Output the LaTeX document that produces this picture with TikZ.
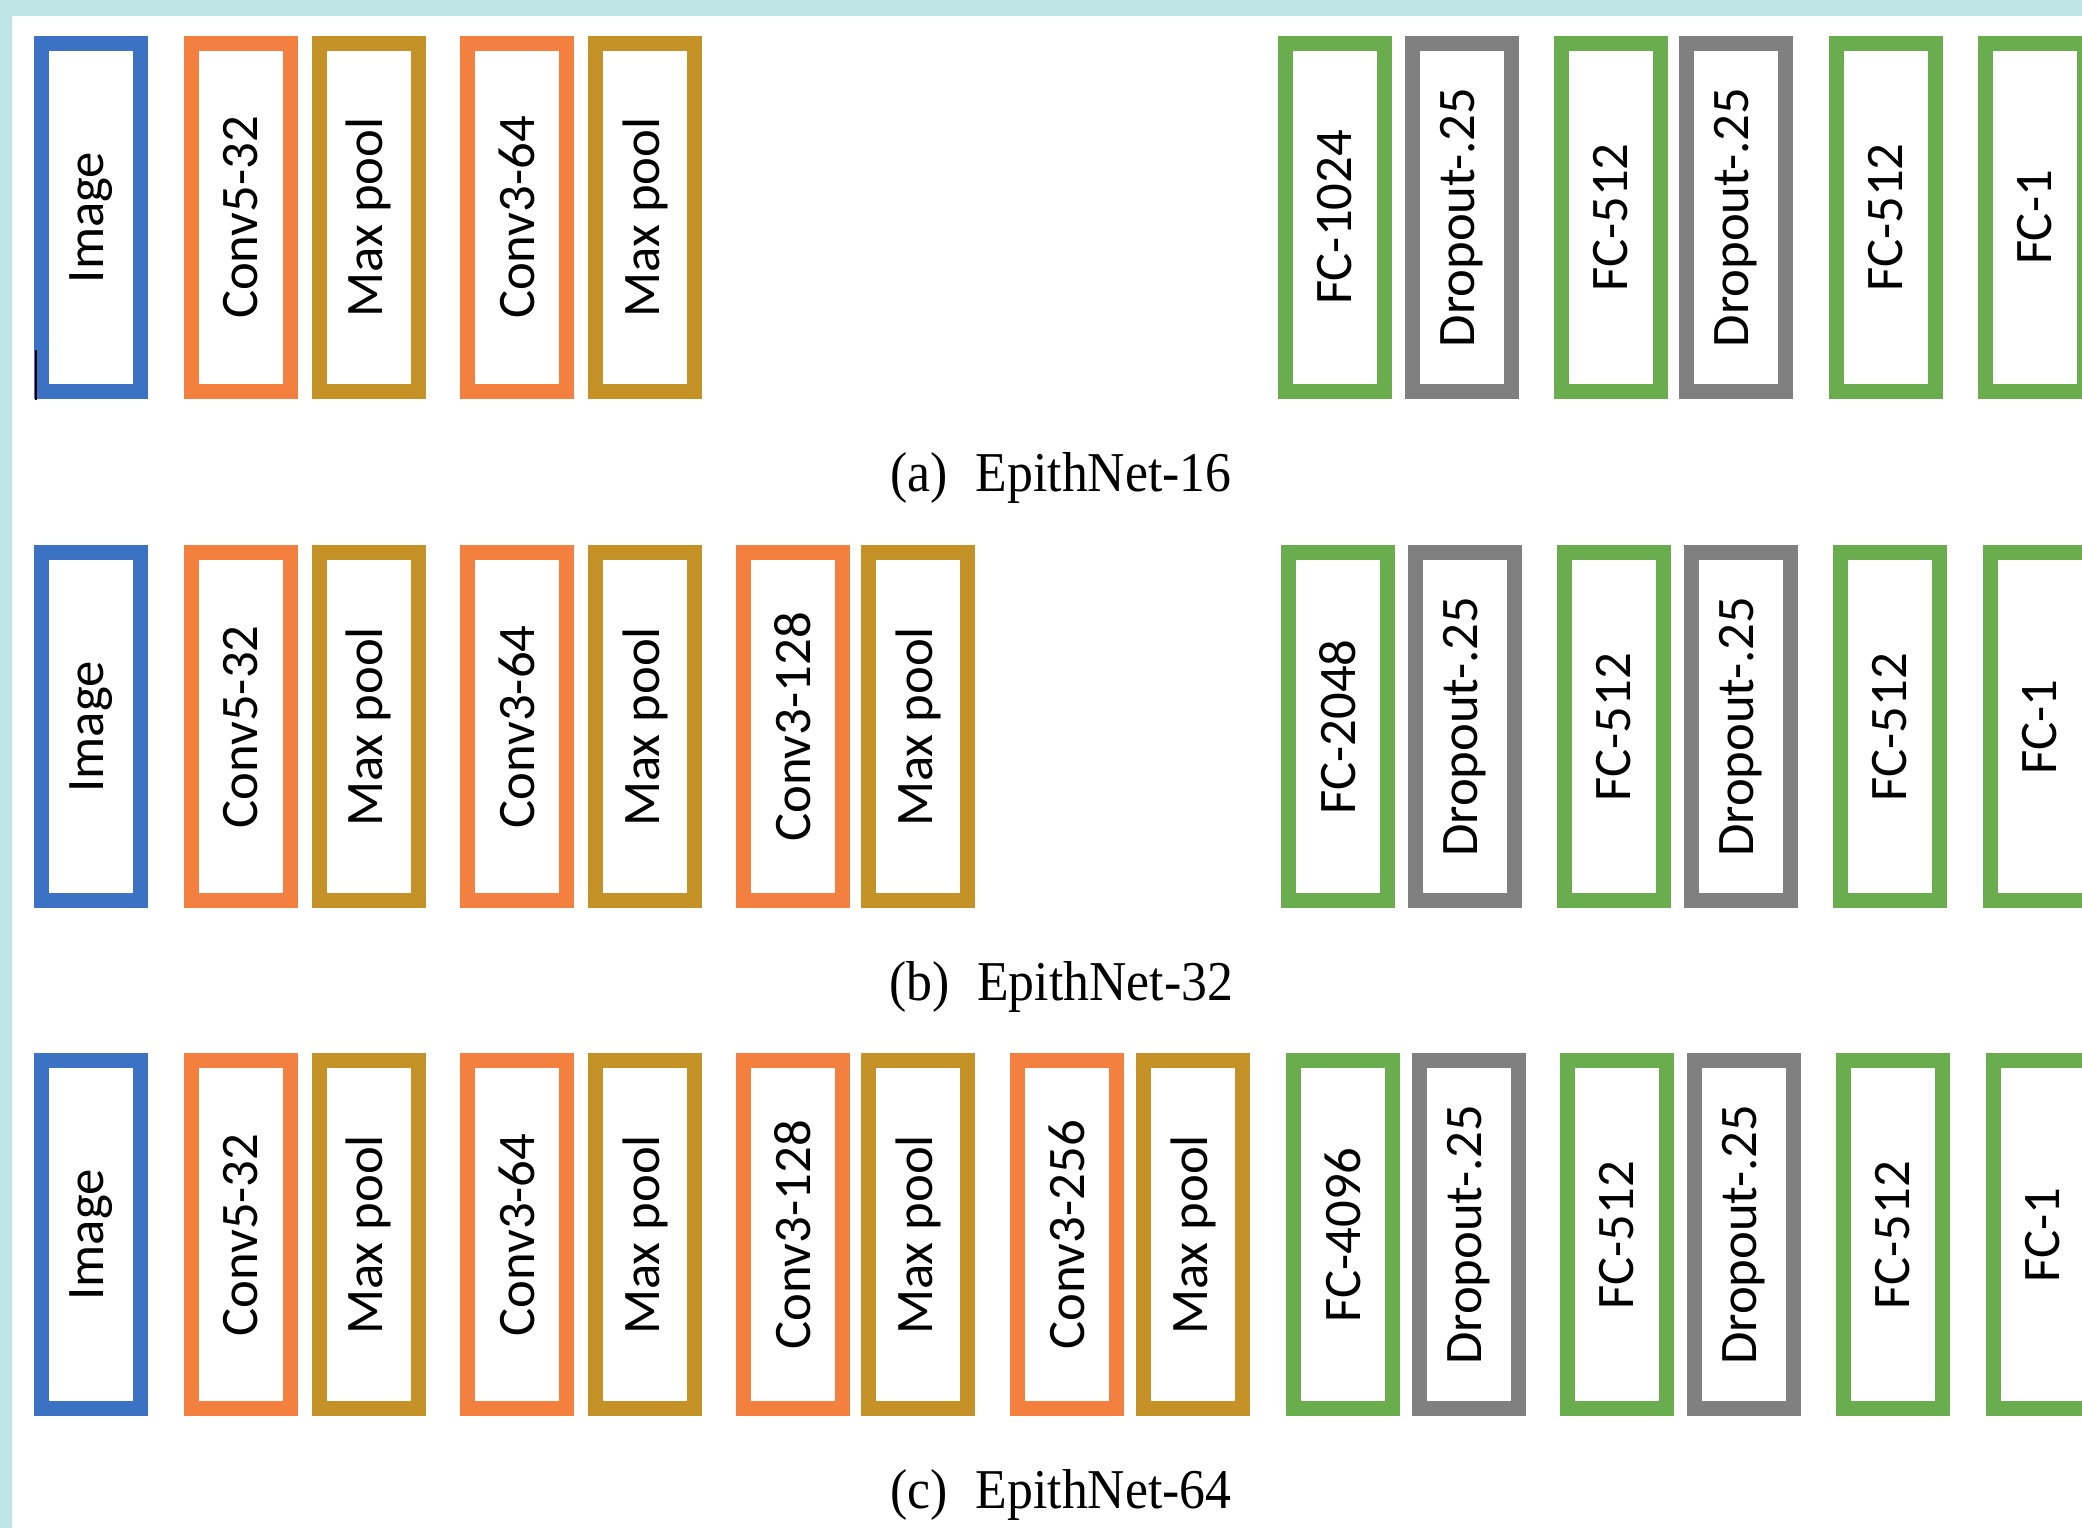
\documentclass[tikz,border=0pt]{standalone}
\usepackage{fontspec}
\setmainfont{Liberation Serif}
\newfontfamily\layerfont{Carlito}

\definecolor{imgblue}{RGB}{59,114,196}
\definecolor{convorange}{RGB}{244,128,64}
\definecolor{poolgold}{RGB}{196,146,38}
\definecolor{fcgreen}{RGB}{106,173,78}
\definecolor{dropgray}{RGB}{128,128,128}
\definecolor{frameteal}{RGB}{190,230,228}

\begin{document}
\begin{tikzpicture}[
    layer/.style={draw, rotate=90, line width=0.15cm, minimum width=3.48cm, minimum height=0.99cm, inner sep=0pt, fill=white, font=\layerfont\fontsize{15}{17}\selectfont},
    img/.style={layer, draw=imgblue},
    conv/.style={layer, draw=convorange},
    pool/.style={layer, draw=poolgold},
    fc/.style={layer, draw=fcgreen},
    drop/.style={layer, draw=dropgray},
    caption/.style={anchor=base, xscale=0.92, font=\fontsize{16}{19}\selectfont}]
    \useasboundingbox (0, 0) rectangle (20.82, 15.28);
    %Frame
    \fill[frameteal] (0, 0) rectangle (20.82, 15.28);
    \fill[white] (0.12, 0) rectangle (20.82, 15.12);

    %Nodes, EpithNet-16
    \node[img] at (0.91, 13.105) (a-img) {Image};
    \node[conv] at (2.41, 13.105) (a-conv1) {Conv5-32};
    \node[pool] at (3.685, 13.105) (a-pool1) {Max pool};
    \node[conv] at (5.17, 13.105) (a-conv2) {Conv3-64};
    \node[pool] at (6.45, 13.105) (a-pool2) {Max pool};
    \node[fc] at (13.35, 13.105) (a-fc1) {FC-1024};
    \node[drop] at (14.62, 13.105) (a-drop1) {Dropout-.25};
    \node[fc] at (16.11, 13.105) (a-fc2) {FC-512};
    \node[drop] at (17.36, 13.105) (a-drop2) {Dropout-.25};
    \node[fc] at (18.86, 13.105) (a-fc3) {FC-512};
    \node[fc] at (20.35, 13.105) (a-fc4) {FC-1};
    \draw[black, line width=0.02cm] (0.36, 11.28) -- (0.36, 11.78);
    \node[caption] at (10.61, 10.36) (a-cap) {(a)\hspace{0.54em}EpithNet-16};

    %Nodes, EpithNet-32
    \node[img] at (0.91, 8.01) (b-img) {Image};
    \node[conv] at (2.41, 8.01) (b-conv1) {Conv5-32};
    \node[pool] at (3.685, 8.01) (b-pool1) {Max pool};
    \node[conv] at (5.17, 8.01) (b-conv2) {Conv3-64};
    \node[pool] at (6.45, 8.01) (b-pool2) {Max pool};
    \node[conv] at (7.93, 8.01) (b-conv3) {Conv3-128};
    \node[pool] at (9.18, 8.01) (b-pool3) {Max pool};
    \node[fc] at (13.38, 8.01) (b-fc1) {FC-2048};
    \node[drop] at (14.65, 8.01) (b-drop1) {Dropout-.25};
    \node[fc] at (16.14, 8.01) (b-fc2) {FC-512};
    \node[drop] at (17.41, 8.01) (b-drop2) {Dropout-.25};
    \node[fc] at (18.90, 8.01) (b-fc3) {FC-512};
    \node[fc] at (20.40, 8.01) (b-fc4) {FC-1};
    \node[caption] at (10.61, 5.27) (b-cap) {(b)\hspace{0.54em}EpithNet-32};

    %Nodes, EpithNet-64
    \node[img] at (0.91, 2.93) (c-img) {Image};
    \node[conv] at (2.41, 2.93) (c-conv1) {Conv5-32};
    \node[pool] at (3.685, 2.93) (c-pool1) {Max pool};
    \node[conv] at (5.17, 2.93) (c-conv2) {Conv3-64};
    \node[pool] at (6.45, 2.93) (c-pool2) {Max pool};
    \node[conv] at (7.93, 2.93) (c-conv3) {Conv3-128};
    \node[pool] at (9.18, 2.93) (c-pool3) {Max pool};
    \node[conv] at (10.67, 2.93) (c-conv4) {Conv3-256};
    \node[pool] at (11.93, 2.93) (c-pool4) {Max pool};
    \node[fc] at (13.43, 2.93) (c-fc1) {FC-4096};
    \node[drop] at (14.69, 2.93) (c-drop1) {Dropout-.25};
    \node[fc] at (16.17, 2.93) (c-fc2) {FC-512};
    \node[drop] at (17.44, 2.93) (c-drop2) {Dropout-.25};
    \node[fc] at (18.93, 2.93) (c-fc3) {FC-512};
    \node[fc] at (20.43, 2.93) (c-fc4) {FC-1};
    \node[caption] at (10.61, 0.19) (c-cap) {(c)\hspace{0.54em}EpithNet-64};

\end{tikzpicture}
\end{document}
